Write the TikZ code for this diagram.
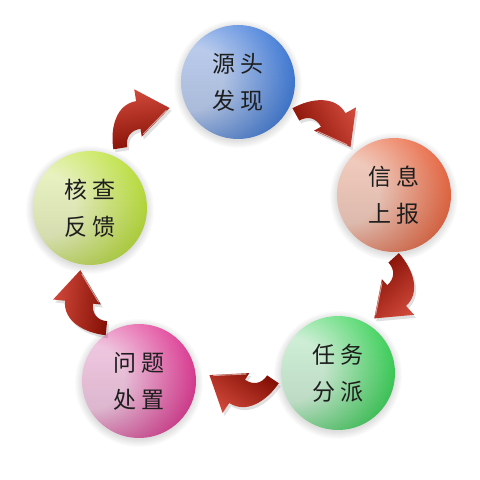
\documentclass[tikz,border=0pt]{standalone}
\usepackage{fontspec}
\newfontfamily\cjk{Noto Sans CJK SC}
\usetikzlibrary{fadings}

\definecolor{textc}{HTML}{1E1E1E}
\definecolor{arrowLight}{HTML}{D0493A}
\definecolor{arrowMid}{HTML}{B8281A}
\definecolor{arrowDark}{HTML}{861006}

\pgfdeclareradialshading[sphL,sphM,sphD]{sphereshade}{\pgfpoint{-26bp}{2bp}}{%
  color(0bp)=(sphL); color(14bp)=(sphL); color(40bp)=(sphM); color(46bp)=(sphM);
  color(50bp)=(sphD); color(70bp)=(sphD)}

\tikzfading[name=fadebottom, top color=transparent!100, middle color=transparent!100, bottom color=transparent!50]

\tikzset{
  labeltext/.style={font=\cjk\fontsize{23}{37}\selectfont, align=center, text=textc},
  spherenode/.style={circle, minimum size=114pt, inner sep=0pt, labeltext},
}

\newcommand\arrowshape{(32,0) -- (0,24) -- (0,12) .. controls (-20,12) and (-30,-10) .. (-30,-32) -- (-16,-32) .. controls (-16,-22) and (-10,-16) .. (0,-16) -- (0,-24) -- cycle}

\newcommand\redarrow[3]{%
  \begin{scope}[shift={(#1+2,#2-3)}, rotate=#3]
    \fill[black, opacity=0.12] \arrowshape;
  \end{scope}
  \begin{scope}[shift={(#1,#2)}, rotate=#3]
    \shade[top color=arrowLight, middle color=arrowMid, bottom color=arrowDark, shading angle=#3] \arrowshape;
    \draw[white, opacity=0.55, line width=0.9pt] (2,-21.5) -- (28.5,-1.8);
  \end{scope}}

\newcommand\ball[7]{%
  \definecolor{sphL}{HTML}{#4}\definecolor{sphM}{HTML}{#5}\definecolor{sphD}{HTML}{#6}%
  \foreach \i in {1,...,8} {\fill[black, opacity=0.016] (#2,#3-2) circle ({56+\i});}
  \shade[shading=sphereshade] (#2,#3) circle (57);
  \fill[black, opacity=0.28, path fading=fadebottom] (#2,#3) circle (57);
  \node[spherenode] (#1) at (#2,#3) {#7};}

\begin{document}
\begin{tikzpicture}[x=1pt, y=1pt]
\useasboundingbox (0,0) rectangle (480,480);
\fill[white] (0,0) rectangle (480,480);

\ball{top}{238}{398}{BFD1F3}{3474D8}{4A6AA0}{源\hspace{6pt}头\\发\hspace{6pt}现}
\ball{right}{394}{285}{F7D0C2}{EA5E36}{AC5A4E}{信\hspace{6pt}息\\上\hspace{6pt}报}
\ball{bright}{338}{107}{D4F5DC}{2ED24E}{438E58}{任\hspace{6pt}务\\分\hspace{6pt}派}
\ball{bleft}{139}{99}{F6CCE6}{E02E8E}{9E4A78}{问\hspace{6pt}题\\处\hspace{6pt}置}
\ball{left}{90}{272}{EFF8C6}{B8E02E}{8E9E48}{核\hspace{6pt}查\\反\hspace{6pt}馈}

\redarrow{138}{367}{9}
\redarrow{335}{361}{-61}
\redarrow{398}{183}{-138}
\redarrow{236}{87}{146}
\redarrow{77}{178}{84}
\end{tikzpicture}
\end{document}
